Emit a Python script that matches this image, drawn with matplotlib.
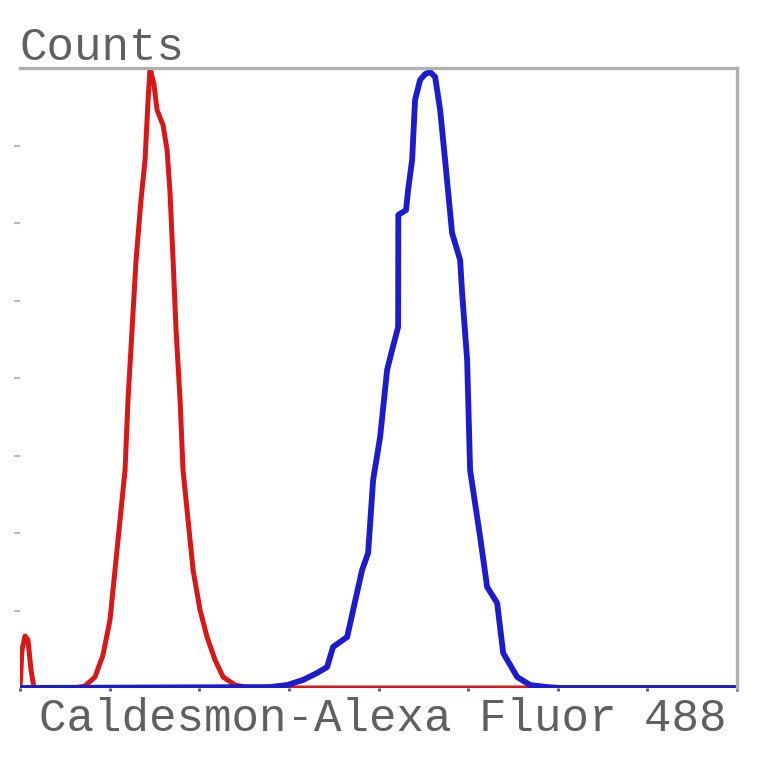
import matplotlib.pyplot as plt
import numpy as np

# isotype control (red) and Caldesmon stained (blue) histograms
red_x = [0.0, 0.022, 0.056, 0.089, 0.123, 0.156, 0.614, 0.725, 0.837, 0.926,
         1.004, 1.060, 1.116, 1.172, 1.205, 1.250, 1.295, 1.350, 1.395, 1.429,
         1.451, 1.496, 1.529, 1.596, 1.641, 1.674, 1.708, 1.741, 1.786, 1.819,
         1.875, 1.931, 2.009, 2.087, 2.176, 2.266, 2.400, 2.567, 8.0]
red_y = [0, 24.5, 33.5, 31, 11.6, 0, 0, 1.3, 7.1, 21.3,
         43.9, 76.1, 108.4, 140.6, 185.8, 231.0, 276.1, 314.8, 340.6, 379.4,
         400, 389.0, 372.9, 363.2, 347.1, 319.4, 276.1, 231.0, 185.8, 140.6,
         108.4, 76.1, 50.3, 32.9, 18.1, 7.1, 1.9, 0, 0]

blue_x = [0.0, 2.790, 2.980, 3.158, 3.315, 3.426, 3.493, 3.650, 3.717, 3.817,
          3.884, 3.940, 4.018, 4.096, 4.152, 4.219, 4.221, 4.308, 4.330, 4.375,
          4.408, 4.464, 4.520, 4.576, 4.632, 4.688, 4.743, 4.821, 4.911, 4.933,
          4.989, 5.022, 5.134, 5.212, 5.324, 5.391, 5.547, 5.692, 5.882, 6.027, 8.0]
blue_y = [0, 0.6, 1.9, 5.2, 9.7, 13.5, 26.5, 32.9, 50.3, 76.1,
          87.1, 134.2, 161.9, 205.2, 218.1, 232.9, 305.2, 308.4, 321.3, 340.6,
          379.4, 392.3, 396.1, 397.4, 394.2, 372.9, 340.6, 293.5, 276.1, 254.8,
          211.6, 140.6, 97.4, 65.2, 54.8, 22.6, 7.1, 1.9, 0.6, 0, 0]

y_ticks = [50, 100, 150, 200, 250, 300, 350]
x_ticks = [0, 1, 2, 3, 4, 5, 6, 7, 8]

fig = plt.figure(figsize=(7.64, 7.64), dpi=100)
ax = fig.add_axes([20/764, 76/764, 717/764, 620/764])

ax.plot(red_x, red_y, color='#d81818', lw=3.6, solid_joinstyle='round')
ax.plot(blue_x, blue_y, color='#1c1ccc', lw=4.2, solid_joinstyle='round')

ax.set_xlim(0, 8)
ax.set_ylim(0, 400)

for side in ['left', 'bottom']:
    ax.spines[side].set_visible(False)
for side in ['top', 'right']:
    ax.spines[side].set_color('#b0b0b0')
    ax.spines[side].set_linewidth(2.4)

ax.set_yticks(y_ticks)
ax.set_xticks(x_ticks)
ax.set_yticklabels([])
ax.set_xticklabels([])
ax.tick_params(axis='y', direction='out', length=4, width=1.5, color='#bbbbbb', pad=0)
ax.tick_params(axis='x', direction='out', length=2, width=2, color='#555577')

fig.text(20/764, 1 - 48/764, 'Counts', fontfamily='Liberation Mono', fontsize=33,
         color='#606060', ha='left', va='center')
fig.text(383/764, 1 - 719/764, 'Caldesmon-Alexa Fluor 488', fontfamily='Liberation Mono',
         fontsize=33, color='#606060', ha='center', va='center')

fig.savefig('out.png', dpi=100, facecolor='white')
